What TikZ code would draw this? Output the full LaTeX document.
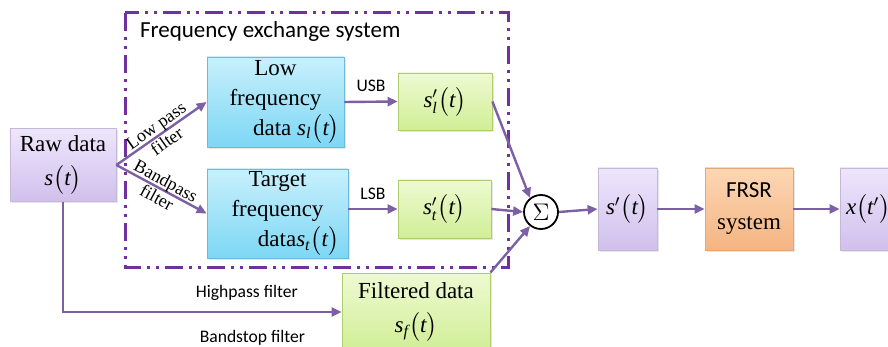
\documentclass[tikz,border=0pt]{standalone}
\usepackage{amsmath}
\usepackage{fontspec}
\setmainfont{Liberation Serif}
\newfontfamily\calibri{Carlito}
\usetikzlibrary{arrows.meta,shadows}

\definecolor{linepurple}{RGB}{125,95,165}
\definecolor{framepurple}{RGB}{112,48,160}
\newcommand{\sgl}[1]{$#1\bigl(\textit{t}\bigr)$}

\begin{document}
\begin{tikzpicture}
        [x=0.5pt,y=-0.5pt,font=\rmfamily\fontsize{11.5}{13}\selectfont,
         box/.style={draw,inner sep=1pt,align=center,font=\rmfamily\fontsize{11.5}{13}\selectfont,
           drop shadow={opacity=0.2,shadow xshift=1pt,shadow yshift=-1pt}},
         purplebox/.style={box,draw=linepurple!45,top color={rgb,255:red,238;green,230;blue,252},bottom color={rgb,255:red,208;green,192;blue,236}},
         bluebox/.style={box,draw={rgb,255:red,110;green,185;blue,220},top color={rgb,255:red,200;green,240;blue,252},bottom color={rgb,255:red,125;green,215;blue,245}},
         greenbox/.style={box,draw={rgb,255:red,175;green,205;blue,110},top color={rgb,255:red,238;green,250;blue,210},bottom color={rgb,255:red,208;green,238;blue,150}},
         orangebox/.style={box,draw={rgb,255:red,230;green,165;blue,115},top color={rgb,255:red,252;green,215;blue,180},bottom color={rgb,255:red,245;green,180;blue,130}},
         arr/.style={draw=linepurple,line width=1.2pt,-{Triangle[length=5pt,width=4.5pt]}},
         lbl/.style={font=\calibri\fontsize{8.8}{10}\selectfont},
         flt/.style={font=\rmfamily\fontsize{9}{9.5}\selectfont,align=center,inner sep=0pt}]

        \clip (0,0) rectangle (888,347);

        \draw[framepurple,line width=1.5pt,dash pattern=on 9pt off 3pt on 1.5pt off 3pt on 1.5pt off 3pt]
          (125,13) rectangle (508,267);
        \node[anchor=west,font=\calibri\fontsize{11.5}{13}\selectfont] (title) at (133,31) {Frequency exchange system};

        \node[purplebox,minimum width=53pt,minimum height=36.5pt] (raw) at (63,165) {Raw data\\[4pt]\sgl{\textit{s}}};
        \node[bluebox,minimum width=68.5pt,minimum height=45pt] (low) at (275.5,102)
          {Low\\[2pt]frequency\\[2pt]\hspace*{21pt}data \sgl{\textit{s}_{\textit{l}}}};
        \node[bluebox,minimum width=70.5pt,minimum height=44.5pt] (target) at (277.5,213.5)
          {Target\\[2pt]frequency\\[2pt]\hspace*{21pt}data\sgl{\textit{s}_{\textit{t}}}};
        \node[greenbox,minimum width=47pt,minimum height=28.5pt] (sl) at (445,101.5) {\sgl{\textit{s}'_{\textit{l}}}};
        \node[greenbox,minimum width=46.5pt,minimum height=29pt] (st) at (444.5,209) {\sgl{\textit{s}'_{\textit{t}}}};
        \node[draw,circle,line width=0.9pt,minimum size=17pt,inner sep=0pt] (sum) at (541,212) {$\Sigma$};
        \node[purplebox,minimum width=29.5pt,minimum height=41pt] (sp) at (627.5,209) {\sgl{\textit{s}'}};
        \node[orangebox,minimum width=44pt,minimum height=41pt] (frsr) at (749,209) {{\calibri FRSR}\\[3pt]system};
        \node[purplebox,minimum width=30pt,minimum height=41pt,text width=28pt,align=left] (xout) at (870,209)
          {\hspace*{2pt}$\textit{x}\bigl(\textit{t}'\bigr)$};
        \node[greenbox,minimum width=74pt,minimum height=39pt] (filt) at (416,312) {Filtered data\\[4pt]\sgl{\textit{s}_{\textit{f}}}};

        \draw[arr] (raw.east) -- node[sloped,flt]{Low pass\\filter} (low.west);
        \draw[arr] (raw.east) -- node[sloped,flt]{Bandpass\\filter} (target.west);
        \draw[arr] (low.east) -- node[lbl,above=1pt]{USB} (sl.west);
        \draw[arr] (target.east |- st.west) -- node[lbl,above=1pt]{LSB} (st.west);
        \draw[arr] (sl.east) -- (sum.128);
        \draw[arr] (st.east) -- (sum.west);
        \draw[arr] (filt.north east) -- (sum.232);
        \draw[arr] (sum.east) -- (sp.west);
        \draw[arr] (sp.east) -- (frsr.west);
        \draw[arr] (frsr.east) -- (xout.west);
        \draw[arr] (raw.south) |- node[lbl,pos=0.83,above=2pt]{Highpass filter}
          node[lbl,pos=0.84,below=5pt]{Bandstop filter} (filt.west);
      \end{tikzpicture}
\end{document}
